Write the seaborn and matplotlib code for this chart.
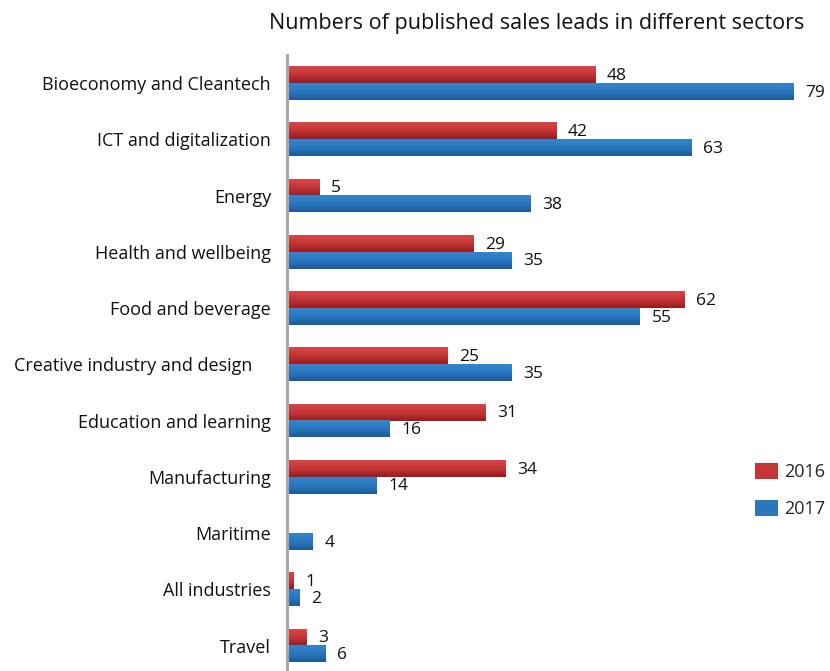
import numpy as np
import pandas as pd
import matplotlib
matplotlib.use("Agg")
import matplotlib.pyplot as plt
from matplotlib.colors import LinearSegmentedColormap
from matplotlib.patches import Patch
import seaborn as sns

sectors = [
    "Bioeconomy and Cleantech",
    "ICT and digitalization",
    "Energy",
    "Health and wellbeing",
    "Food and beverage",
    "Creative industry and design    ",
    "Education and learning",
    "Manufacturing",
    "Maritime",
    "All industries",
    "Travel",
]
leads_2016 = [48, 42, 5, 29, 62, 25, 31, 34, np.nan, 1, 3]
leads_2017 = [79, 63, 38, 35, 55, 35, 16, 14, 4, 2, 6]
years = ["2016", "2017"]

rows = []
for s, a, b in zip(sectors, leads_2016, leads_2017):
    if not np.isnan(a):
        rows.append((s, years[0], a))
    rows.append((s, years[1], b))
df = pd.DataFrame(rows, columns=["sector", "year", "leads"])

sns.set_theme(style="white")
plt.rcParams["font.family"] = ["Open Sans", "DejaVu Sans"]

red_stops = ["#da4646", "#c23636", "#981a1e"]
blue_stops = ["#3385cd", "#2a77be", "#1c5a95"]
palette = {"2016": red_stops[1], "2017": blue_stops[1]}

fig = plt.figure(figsize=(8.30, 6.71), dpi=100)
ax = fig.add_axes([0.3458, -0.004, 0.634, 0.922])

sns.barplot(data=df, y="sector", x="leads", hue="year", order=sectors,
            hue_order=years, palette=palette, width=0.6, orient="h",
            legend=False, ax=ax, saturation=1)

xlim = (0, 82)
ylim = ax.get_ylim()

# Replace each flat bar by a vertical gradient fill
cmaps = {"2016": LinearSegmentedColormap.from_list("r", red_stops),
         "2017": LinearSegmentedColormap.from_list("b", blue_stops)}
grad = np.linspace(0, 1, 64).reshape(-1, 1)
for cont, yr in zip(ax.containers, years):
    for patch, val in zip(cont.patches, cont.datavalues):
        if np.isnan(val):
            continue
        x0, y0 = patch.get_x(), patch.get_y()
        w, h = patch.get_width(), patch.get_height()
        patch.set_visible(False)
        ax.imshow(grad, cmap=cmaps[yr], aspect="auto", origin="upper",
                  extent=[x0, x0 + w, y0 + h, y0], zorder=2,
                  interpolation="bilinear")
        ax.text(x0 + w + 1.8, y0 + h / 2 + 0.02, f"{int(val)}",
                ha="left", va="center", fontsize=12.5, color="#111111")

ax.set_xlim(*xlim)
ax.set_ylim(ylim)

for sp in ["top", "right", "bottom"]:
    ax.spines[sp].set_visible(False)
ax.spines["left"].set_color("#a8a8ad")
ax.spines["left"].set_linewidth(2.2)

ax.set_xticks([])
ax.set_xlabel("")
ax.set_ylabel("")
ax.tick_params(axis="y", which="major", length=0, pad=11.5, labelsize=13,
               labelcolor="#111111")
ax.set_yticks(np.arange(len(sectors) - 1) + 0.5, minor=True)
ax.tick_params(axis="y", which="minor", length=5, width=1.2, color="#a8a8ad",
               direction="out")

fig.text(0.647, 0.965, "Numbers of published sales leads in different sectors",
         ha="center", va="center", fontsize=15.5, color="#111111")

handles = [Patch(facecolor=palette[y], edgecolor="none") for y in years]
fig.legend(handles, years, loc="center left", bbox_to_anchor=(0.9096, 0.269),
           frameon=False, fontsize=13, handlelength=1.3, handleheight=1.0,
           handletextpad=0.3, labelspacing=1.0, borderaxespad=0, borderpad=0)

fig.savefig("out.png", dpi=100)
